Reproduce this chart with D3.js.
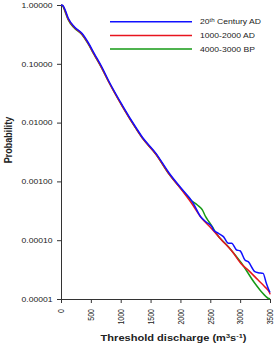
<!DOCTYPE html>
<html>
<head>
<meta charset="utf-8">
<script src="https://cdn.jsdelivr.net/npm/d3@7"></script>
<style>
  body { margin: 0; background: #fff; }
  text { font-family: "Liberation Sans", Arial, sans-serif; fill: #222; }
</style>
</head>
<body>
<div id="chart"></div>
<script>
// values
const discharge20th = [0, 30, 70, 120, 230, 350, 450, 560, 680, 800, 1030, 1260, 1360, 1590, 1810, 2010, 2201, 2339, 2440, 2527, 2555, 2637, 2720, 2803, 2858, 2941, 2997, 3080, 3135, 3246, 3301, 3384, 3439, 3495, 3500];
const prob20th = [1.0, 0.98, 0.82, 0.60, 0.42, 0.33, 0.235, 0.148, 0.090, 0.051, 0.0195, 0.0081, 0.0057, 0.0030, 0.00139, 0.00077, 0.00045, 0.00025, 0.00020, 0.00017, 0.000149, 0.000131, 0.000115, 0.0000885, 0.0000885, 0.0000681, 0.0000662, 0.0000461, 0.0000431, 0.0000292, 0.0000280, 0.0000273, 0.0000185, 0.0000133, 0.000013];

const discharge1000 = [0, 30, 70, 120, 230, 350, 450, 560, 680, 800, 1030, 1260, 1360, 1590, 1810, 2010, 2190, 2350, 2520, 2692, 2858, 3024, 3135, 3301, 3412, 3495, 3500];
const prob1000 = [1.0, 0.97, 0.79, 0.58, 0.41, 0.32, 0.226, 0.142, 0.086, 0.049, 0.0187, 0.0078, 0.0055, 0.0029, 0.00133, 0.00074, 0.00042, 0.00024, 0.000158, 0.0001, 0.000066, 0.000039, 0.000031, 0.000021, 0.0000162, 0.0000126, 0.000012];

const dischargeBP = [0, 30, 70, 120, 230, 350, 450, 560, 680, 800, 1030, 1260, 1360, 1590, 1810, 2010, 2173, 2284, 2367, 2422, 2477, 2533, 2600, 2803, 3024, 3246, 3356, 3467, 3500];
const probBP = [1.0, 0.96, 0.76, 0.56, 0.40, 0.315, 0.222, 0.140, 0.085, 0.049, 0.0187, 0.0078, 0.0055, 0.0029, 0.00133, 0.00075, 0.000483, 0.000397, 0.000327, 0.000251, 0.000206, 0.00017, 0.00013, 0.0000776, 0.0000405, 0.0000185, 0.0000133, 0.0000103, 0.00001];

const seriesNames = ['20th Century AD', '1000-2000 AD', '4000-3000 BP'];
const seriesColors = ['#1010ff', '#e8141e', '#159a15'];

const yTicks = [1, 0.1, 0.01, 0.001, 0.0001, 0.00001];
const xTicks = [0, 500, 1000, 1500, 2000, 2500, 3000, 3500];

const width = 274;
const height = 346;
const margin = { top: 5, right: 4, bottom: 47, left: 61 };
const sx = 1.23; // the picture is stretched sideways

const svg = d3.select('#chart').append('svg')
  .attr('width', width)
  .attr('height', height);

const x = d3.scaleLinear()
  .domain([0, 3500])
  .range([margin.left, width - margin.right]);

const y = d3.scaleLog()
  .domain([0.00001, 1])
  .range([height - margin.bottom, margin.top]);

// minor ticks
const yMinor = [];
for (let e = -5; e < 0; e++) {
  for (let k = 2; k <= 9; k++) yMinor.push(k * Math.pow(10, e));
}
const xMinor = d3.range(0, 3501, 100).filter(d => d % 500 !== 0);

// y axis
const gy = svg.append('g')
  .attr('transform', `translate(${margin.left},0)`);
gy.call(d3.axisLeft(y).tickValues(yMinor).tickFormat('').tickSize(2).tickSizeOuter(0));
gy.call(d3.axisLeft(y).tickValues(yTicks).tickFormat(d3.format('.5f')).tickSize(4).tickSizeOuter(0));
gy.selectAll('.tick text')
  .attr('x', -8.5 / sx)
  .attr('transform', `scale(${sx},1)`)
  .style('font-size', '7px');

// x axis
const gx = svg.append('g')
  .attr('transform', `translate(0,${height - margin.bottom})`);
gx.call(d3.axisBottom(x).tickValues(xMinor).tickFormat('').tickSize(2).tickSizeOuter(0));
gx.call(d3.axisBottom(x).tickValues(xTicks).tickFormat(d3.format('d')).tickSize(4).tickSizeOuter(0));
gx.selectAll('.tick text')
  .attr('x', 0)
  .attr('y', 0)
  .attr('dy', '0.32em')
  .attr('text-anchor', 'end')
  .attr('transform', `translate(0,10) scale(${sx},1) rotate(-90)`)
  .style('font-size', '7px');

svg.selectAll('.domain, .tick line').attr('stroke', '#333');

// curves
const line = d3.line()
  .x(d => x(d[0]))
  .y(d => y(d[1]))
  .curve(d3.curveMonotoneX);

const series = [
  d3.zip(discharge20th, prob20th),
  d3.zip(discharge1000, prob1000),
  d3.zip(dischargeBP, probBP),
];

[2, 1, 0].forEach(i => {
  svg.append('path')
    .datum(series[i])
    .attr('fill', 'none')
    .attr('stroke', seriesColors[i])
    .attr('stroke-width', 1.5)
    .attr('stroke-linejoin', 'round')
    .attr('d', line);
});

// legend
const legend = svg.append('g');
seriesNames.forEach((name, i) => {
  const ly = 21.7 + i * 13.7;
  legend.append('line')
    .attr('x1', 110).attr('x2', 192)
    .attr('y1', ly).attr('y2', ly)
    .attr('stroke', seriesColors[i])
    .attr('stroke-width', 1.5);
  const t = legend.append('text')
    .attr('transform', `translate(200,${ly + 2.5}) scale(${sx},1)`)
    .style('font-size', '7px');
  if (i === 0) {
    t.append('tspan').text('20');
    t.append('tspan').attr('baseline-shift', 'super').style('font-size', '5px').text('th');
    t.append('tspan').text(' Century AD');
  } else {
    t.text(name);
  }
});

// axis titles
const xt = svg.append('text')
  .attr('transform', `translate(${(margin.left + width - margin.right) / 2 + 8},341) scale(${sx},1)`)
  .attr('text-anchor', 'middle')
  .style('font-size', '9px')
  .style('font-weight', 'bold');
xt.append('tspan').text('Threshold discharge (m');
xt.append('tspan').attr('baseline-shift', 'super').style('font-size', '6px').text('3');
xt.append('tspan').text('s');
xt.append('tspan').attr('baseline-shift', 'super').style('font-size', '6px').text('-1');
xt.append('tspan').text(')');

svg.append('text')
  .attr('transform', `translate(12,140) scale(${sx},1) rotate(-90)`)
  .attr('text-anchor', 'middle')
  .style('font-size', '9px')
  .style('font-weight', 'bold')
  .text('Probability');
</script>
</body>
</html>
